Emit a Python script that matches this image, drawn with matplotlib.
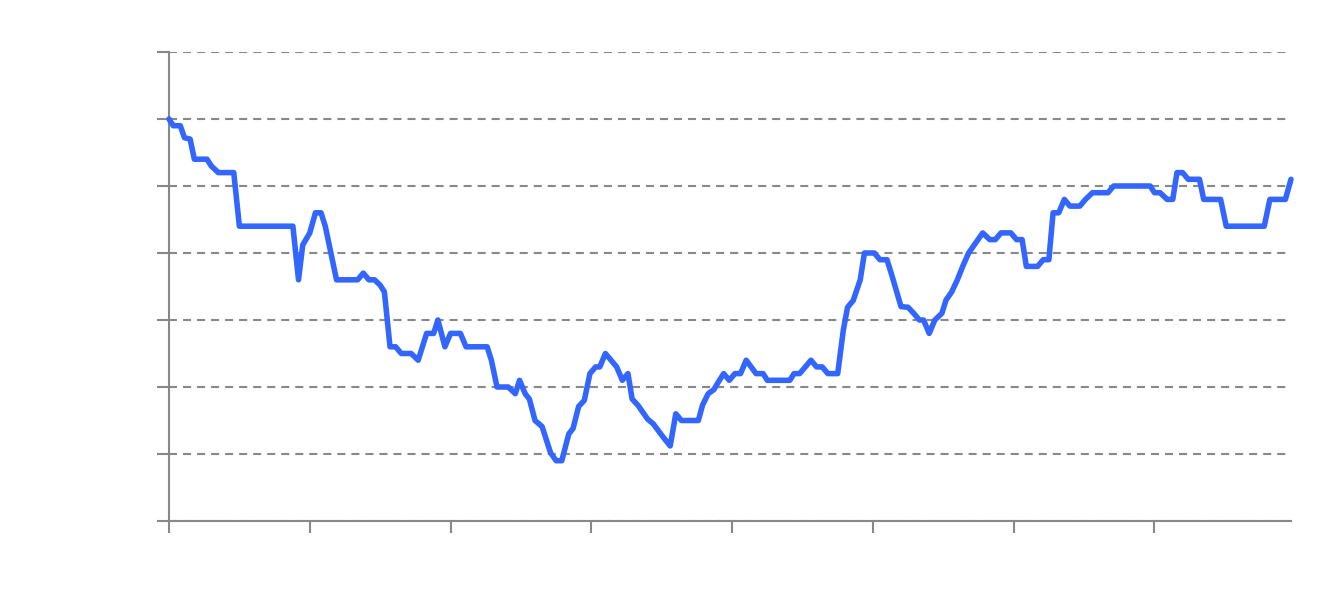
from matplotlib import pyplot as plt

# values (x in tick units, y in gridline units of 10)
x_vals = [0.00, 0.03, 0.08, 0.11, 0.15, 0.18, 0.27, 0.30, 0.35, 0.46,
          0.50, 0.88, 0.92, 0.95, 1.00, 1.04, 1.08, 1.11, 1.19, 1.34,
          1.38, 1.42, 1.46, 1.50, 1.53, 1.57, 1.61, 1.65, 1.72, 1.77,
          1.83, 1.88, 1.91, 1.96, 2.00, 2.07, 2.11, 2.26, 2.29, 2.33,
          2.41, 2.46, 2.49, 2.53, 2.56, 2.60, 2.65, 2.71, 2.75, 2.79,
          2.84, 2.87, 2.91, 2.95, 2.99, 3.03, 3.06, 3.10, 3.18, 3.22,
          3.26, 3.29, 3.33, 3.40, 3.44, 3.50, 3.56, 3.60, 3.64, 3.76,
          3.79, 3.83, 3.87, 3.91, 3.94, 3.98, 4.02, 4.06, 4.10, 4.17,
          4.22, 4.25, 4.41, 4.44, 4.48, 4.56, 4.60, 4.64, 4.68, 4.75,
          4.79, 4.82, 4.86, 4.91, 4.94, 5.01, 5.05, 5.10, 5.13, 5.20,
          5.25, 5.29, 5.33, 5.36, 5.40, 5.44, 5.49, 5.52, 5.56, 5.60,
          5.64, 5.68, 5.71, 5.78, 5.83, 5.87, 5.91, 5.98, 6.02, 6.06,
          6.09, 6.17, 6.21, 6.25, 6.28, 6.32, 6.36, 6.40, 6.47, 6.51,
          6.56, 6.67, 6.71, 6.97, 7.00, 7.04, 7.09, 7.13, 7.16, 7.20,
          7.24, 7.32, 7.35, 7.47, 7.51, 7.78, 7.82, 7.93, 7.97]
y_vals = [60.0, 59.0, 59.0, 57.2, 57.0, 54.0, 54.0, 53.0, 52.0, 52.0,
          44.0, 44.0, 36.0, 41.2, 43.0, 46.0, 46.0, 44.0, 36.0, 36.0,
          37.0, 36.0, 36.0, 35.2, 34.2, 26.0, 26.0, 25.0, 25.0, 24.0,
          28.0, 28.0, 30.0, 26.0, 28.0, 28.0, 26.0, 26.0, 24.0, 20.0,
          20.0, 19.0, 21.0, 19.0, 18.2, 15.0, 14.1, 10.2, 9.0, 9.0,
          13.0, 13.8, 17.1, 18.0, 22.0, 23.0, 23.0, 25.0, 23.0, 21.0,
          22.0, 18.2, 17.3, 15.2, 14.5, 12.8, 11.2, 16.0, 15.0, 15.0,
          17.3, 19.0, 19.6, 21.0, 22.0, 21.0, 22.0, 22.0, 24.0, 22.0,
          22.0, 21.0, 21.0, 22.0, 22.0, 24.0, 23.0, 23.0, 22.0, 22.0,
          28.5, 31.9, 32.9, 36.0, 40.0, 40.0, 39.0, 39.0, 37.0, 32.0,
          31.9, 31.0, 30.0, 30.0, 28.0, 30.0, 31.0, 33.0, 34.2, 36.0,
          38.1, 40.0, 40.9, 43.0, 42.0, 42.0, 43.0, 43.0, 42.0, 42.0,
          38.0, 38.0, 39.0, 39.0, 46.0, 46.0, 48.0, 47.0, 47.0, 48.0,
          49.0, 49.0, 50.0, 50.0, 49.0, 49.0, 48.0, 48.0, 52.0, 52.0,
          51.0, 51.0, 48.0, 48.0, 44.0, 44.0, 48.0, 48.0, 51.0]

x_ticks = [0, 1, 2, 3, 4, 5, 6, 7]
y_ticks = [0, 10, 20, 30, 40, 50, 60, 70]

axis_grey = '#888888'
plt.rcParams['lines.scale_dashes'] = False

fig = plt.figure(figsize=(13.31, 5.93), dpi=100)
ax = fig.add_axes([169 / 1331, 72 / 593, 1122 / 1331, 469 / 593])

ax.plot(x_vals, y_vals, color='#3366ff', linewidth=4.0,
        solid_joinstyle='round', solid_capstyle='round',
        clip_on=False, zorder=3)

ax.set_xlim(0, 7.97)
ax.set_ylim(0, 70)
ax.set_xticks(x_ticks)
ax.set_yticks(y_ticks)
ax.set_xticklabels([])
ax.set_yticklabels([])
ax.tick_params(axis='both', colors=axis_grey, length=8.6, width=1.5)

ax.grid(True, axis='y', color=axis_grey, linewidth=1.5,
        linestyle=(0, (5.8, 4.3)))
ax.set_axisbelow(True)

for side in ['top', 'right']:
    ax.spines[side].set_visible(False)
for side in ['left', 'bottom']:
    ax.spines[side].set_color(axis_grey)
    ax.spines[side].set_linewidth(1.5)

fig.savefig('out.png', dpi=100)
